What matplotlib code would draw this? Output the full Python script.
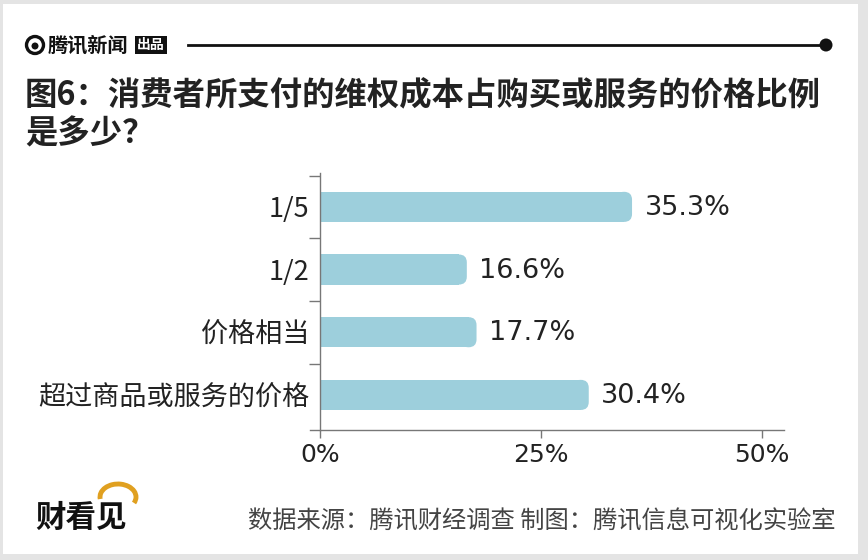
import numpy as np
import matplotlib.pyplot as plt
from matplotlib.patches import FancyBboxPatch, Rectangle, Ellipse, Arc

plt.rcParams['font.family'] = ['Noto Sans CJK SC', 'DejaVu Sans']

# data
categories = ['1/5', '1/2', '价格相当', '超过商品或服务的价格']
values = [35.3, 16.6, 17.7, 30.4]
xticks = [0, 25, 50]
xtick_labels = ['0%', '25%', '50%']

title = '图6：消费者所支付的维权成本占购买或服务的价格比例\n是多少？'
source = '数据来源：腾讯财经调查 制图：腾讯信息可视化实验室'

bar_color = '#9dcfdc'
text_color = '#222222'
W, H = 868, 560


def dot(x, y, rad, **kw):
    # circle given in pixels, placed in figure coords
    return Ellipse((x / W, 1 - y / H), 2 * rad / W, 2 * rad / H,
                   transform=fig.transFigure, **kw)


fig = plt.figure(figsize=(W / 100, H / 100), dpi=100)

# grey frame round the card
fig.patches.append(Rectangle((0, 0), 1, 1, transform=fig.transFigure,
                             facecolor='#e4e4e4', edgecolor='none', zorder=-10))
fig.patches.append(Rectangle((3 / W, 1 - 554 / H), 855 / W, 550 / H,
                             transform=fig.transFigure, facecolor='white',
                             edgecolor='none', zorder=-9))

# header: logo, rule and dot
fig.patches.append(dot(35, 45, 8.5, facecolor='none', edgecolor='#111111', lw=2.4))
fig.patches.append(dot(35, 46, 3.5, facecolor='#111111', edgecolor='none'))
fig.text(48 / W, 1 - 45 / H, '腾讯新闻', fontsize=14.5, fontweight='bold',
         color='#111111', va='center', ha='left')
fig.text(151 / W, 1 - 45 / H, '出品', fontsize=10, fontweight='bold', color='white',
         va='center', ha='center',
         bbox=dict(boxstyle='square,pad=0.15', facecolor='#111111', edgecolor='none'))
fig.lines.append(plt.Line2D([188 / W, 826 / W], [1 - 45 / H, 1 - 45 / H],
                            transform=fig.transFigure, color='#111111', lw=2))
fig.patches.append(dot(826, 45, 6.5, facecolor='#111111', edgecolor='none'))

# title
fig.text(25 / W, 1 - 79 / H, title, fontsize=23.3, fontweight='bold',
         color=text_color, va='top', ha='left', linespacing=1.2)

# chart
left_px, right_px, top_px, bottom_px = 310, 784, 173, 430
ax = fig.add_axes([left_px / W, 1 - bottom_px / H,
                   (right_px - left_px) / W, (bottom_px - top_px) / H])
ax.set_xlim(-1.15, 52.5)
ax.set_ylim(3.56, -0.54)

y = np.arange(len(categories))
bh = 0.48
r = 0.9
px_x = (right_px - left_px) / (52.5 + 1.15)
px_y = (bottom_px - top_px) / 4.1
ax.barh(y, [v - r for v in values], height=bh, left=0, color=bar_color, zorder=2)
for yi, v in zip(y, values):
    ax.add_patch(FancyBboxPatch((v - 2 * r, yi - bh / 2), 2 * r, bh,
                                boxstyle='round,pad=0,rounding_size=%.2f' % r,
                                mutation_aspect=px_x / px_y,
                                facecolor=bar_color, edgecolor='none', zorder=2))
    ax.text(v + 1.4, yi + 0.02, '%.1f%%' % v, fontsize=19.5, color=text_color,
            va='center', ha='left', family=['DejaVu Sans'])

for s in ['top', 'right']:
    ax.spines[s].set_visible(False)
ax.spines['left'].set_position(('data', 0))
for s in ['left', 'bottom']:
    ax.spines[s].set_color('#777777')
    ax.spines[s].set_linewidth(1)

ax.set_yticks(y)
ax.set_yticklabels(categories, fontsize=19.5, color=text_color)
ax.set_yticks([-0.5, 0.5, 1.5, 2.5], minor=True)
ax.tick_params(axis='y', which='major', length=0, pad=8)
ax.tick_params(axis='y', which='minor', length=8, color='#777777', width=1)

ax.set_xticks(xticks)
ax.set_xticklabels(xtick_labels, fontsize=18, color=text_color, family=['DejaVu Sans'])
ax.tick_params(axis='x', length=6, color='#777777', width=1, pad=3)

# footer
fig.text(835 / W, 1 - 522 / H, source, fontsize=17.5, color='#444444',
         va='center', ha='right')
fig.text(35 / W, 1 - 518 / H, '财看见', fontsize=22, fontweight='heavy',
         color='#111111', va='center', ha='left')
fig.patches.append(Arc((118 / W, 1 - 497 / H), 36 / W, 26 / H, theta1=-30, theta2=190,
                       transform=fig.transFigure, color='#e0a020', lw=3.5))

fig.savefig('out.png', dpi=100)
